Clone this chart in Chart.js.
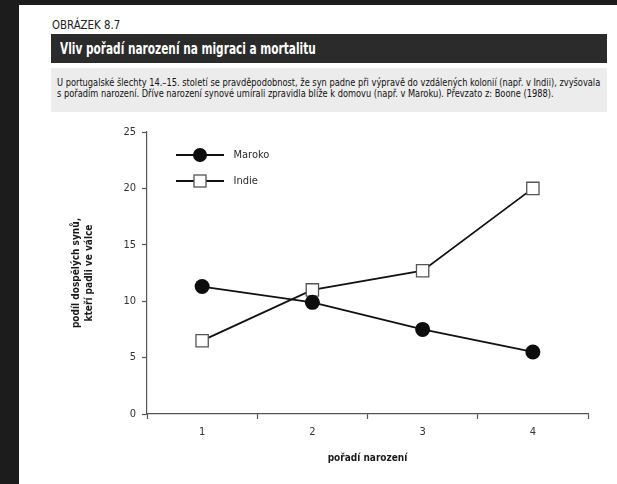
<!DOCTYPE html>
<html>
<head>
<meta charset="utf-8">
<script src="https://cdn.jsdelivr.net/npm/chart.js@4.4.1/dist/chart.umd.min.js"></script>
<style>
  html, body { margin: 0; padding: 0; background: #1c1c1c; }
  body { width: 617px; height: 484px; position: relative; overflow: hidden;
         font-family: "DejaVu Sans Condensed", "Liberation Sans Narrow", "DejaVu Sans", sans-serif; }
  #page { position: absolute; left: 19px; top: 5px; width: 598px; height: 479px; background: #fff; }
  .t { position: absolute; white-space: nowrap; line-height: 1; transform-origin: 0 50%; }
  #fig { left: 52px; top: 19px; font-size: 12.5px; color: #222; }
  #bar { position: absolute; left: 51px; top: 34px; width: 556px; height: 29px; background: #2b2b2b; }
  #title { left: 60px; top: 41px; font-size: 16px; font-weight: bold; color: #fff; }
  #cap { position: absolute; left: 51px; top: 68px; width: 556px; height: 44px; background: #ececec; }
  .cl { font-size: 11px; color: #111; }
  #c1 { left: 57px; top: 77px; }
  #c2 { left: 57px; top: 88px; }
  #wrap { position: absolute; left: 19px; top: 114px; width: 598px; height: 370px; }
</style>
</head>
<body>
<div id="page"></div>
<div class="t" id="fig">OBRÁZEK 8.7</div>
<div id="bar"></div>
<div class="t" id="title">Vliv pořadí narození na migraci a mortalitu</div>
<div id="cap"></div>
<div class="t cl" id="c1">U portugalské šlechty 14.–15. století se pravděpodobnost, že syn padne při výpravě do vzdálených kolonií (např. v Indii), zvyšovala</div>
<div class="t cl" id="c2">s pořadím narození. Dříve narození synové umírali zpravidla blíže k domovu (např. v Maroku). Převzato z: Boone (1988).</div>
<div id="wrap"><canvas id="chart" width="598" height="370"></canvas></div>
<script>
// data
const categories = ["1", "2", "3", "4"];
const maroko = [11.3, 9.9, 7.5, 5.5];
const indie = [6.5, 11.0, 12.7, 20.0];
const yTicks = [0, 5, 10, 15, 20, 25];
const seriesNames = ["Maroko", "Indie"];

// squeeze header texts to the widths they have in the print
function fit(id, w) {
  const el = document.getElementById(id);
  const s = w / el.offsetWidth;
  el.style.transform = "scaleX(" + s + ")";
  return s;
}
fit("fig", 68);
fit("title", 256);
const s1 = fit("c1", 543);
document.getElementById("c2").style.transform = "scaleX(" + s1 + ")";

const FONT = "'DejaVu Sans Condensed', 'Liberation Sans Narrow', 'DejaVu Sans', sans-serif";
Chart.defaults.font.family = FONT;
Chart.defaults.color = "#2b2b2b";

// legend icons: short line with the marker in the middle
function makeIcon(kind) {
  const c = document.createElement("canvas");
  c.width = 66; c.height = 18;
  const g = c.getContext("2d");
  g.strokeStyle = "#111"; g.lineWidth = 1.8;
  g.beginPath(); g.moveTo(14, 9); g.lineTo(62, 9); g.stroke();
  if (kind === "circle") {
    g.fillStyle = "#0d0d0d";
    g.beginPath(); g.arc(38, 9, 7, 0, Math.PI * 2); g.fill();
  } else {
    g.fillStyle = "#fff"; g.fillRect(32, 3, 12, 12);
    g.strokeStyle = "#555"; g.lineWidth = 1.3; g.strokeRect(32, 3, 12, 12);
  }
  return c;
}
const icons = [makeIcon("circle"), makeIcon("rect")];

const axisColor = "#555";

new Chart(document.getElementById("chart").getContext("2d"), {
  type: "line",
  data: {
    labels: categories,
    datasets: [
      {
        label: seriesNames[0],
        data: maroko,
        borderColor: "#111",
        borderWidth: 1.8,
        pointStyle: "circle",
        pointRadius: 7.5,
        pointBackgroundColor: "#0d0d0d",
        pointBorderColor: "#0d0d0d",
        pointBorderWidth: 0,
        tension: 0,
        fill: false,
      },
      {
        label: seriesNames[1],
        data: indie,
        borderColor: "#111",
        borderWidth: 1.8,
        pointStyle: "rect",
        pointRadius: 8.7,
        pointBackgroundColor: "#fff",
        pointBorderColor: "#555",
        pointBorderWidth: 1.3,
        tension: 0,
        fill: false,
      },
    ],
  },
  options: {
    responsive: false,
    animation: false,
    devicePixelRatio: 1,
    layout: { padding: { left: 40, top: 18, right: 29, bottom: 0 } },
    plugins: {
      tooltip: { enabled: false },
      legend: {
        position: "chartArea",
        align: "start",
        // empty title just pushes the items down into the plot
        title: { display: true, text: "", font: { size: 10, lineHeight: 1.2 }, padding: { top: 8.5, bottom: 0 } },
        labels: {
          usePointStyle: true,
          pointStyleWidth: 66,
          padding: 15,
          color: "#1a1a1a",
          font: { size: 11 },
          generateLabels: (chart) =>
            chart.data.datasets.map((ds, i) => ({
              text: ds.label,
              pointStyle: icons[i],
              datasetIndex: i,
              lineWidth: 0,
              fillStyle: "transparent",
              strokeStyle: "transparent",
            })),
        },
      },
    },
    scales: {
      x: {
        type: "category",
        offset: true,
        grid: { offset: true, drawOnChartArea: false, tickLength: 5, tickColor: axisColor, tickWidth: 1.2 },
        border: { color: axisColor, width: 1.2 },
        ticks: { padding: 7, font: { size: 11 }, color: "#333" },
        title: {
          display: true,
          text: "pořadí narození",
          color: "#1a1a1a",
          font: { size: 10, weight: "bold" },
          padding: { top: 0, bottom: 20 },
        },
        afterFit: (scale) => { scale.height = 70; },
      },
      y: {
        min: 0,
        max: 25,
        afterBuildTicks: (scale) => { scale.ticks = yTicks.map((v) => ({ value: v })); },
        grid: { drawOnChartArea: false, tickLength: 5, tickColor: axisColor, tickWidth: 1.2 },
        border: { color: axisColor, width: 1.2 },
        ticks: { padding: 6, font: { size: 11 }, color: "#333" },
        title: {
          display: true,
          text: ["podíl dospělých synů,", "kteří padli ve válce"],
          color: "#1a1a1a",
          font: { size: 10, weight: "bold", lineHeight: 1.3 },
          padding: { top: 11, bottom: 0 },
        },
        afterFit: (scale) => { scale.width = 88; },
      },
    },
  },
});
</script>
</body>
</html>
